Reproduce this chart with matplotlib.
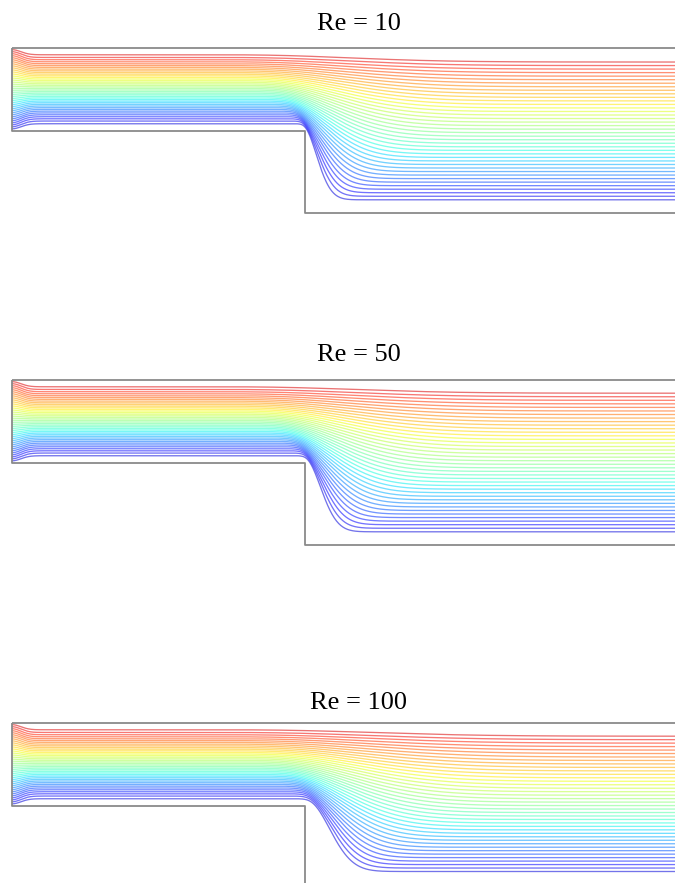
import numpy as np
import matplotlib.pyplot as plt

# panel labels and streamline layout
re_labels = ["Re = 10", "Re = 50", "Re = 100"]
n_lines = 40
channel_len = 8.04          # channel length in step heights
step_x = 3.55               # position of the step
inlet_band = [1.08, 1.92]   # streamline band in the developed inlet
left_band = [1.02, 1.98]    # streamline band at the inlet boundary
outlet_low = [0.16, 0.16, 0.20]
outlet_high = [1.83, 1.84, 1.84]
bend_x0_bottom = [3.51, 3.53, 3.56]
bend_len_bottom = [0.25, 0.29, 0.40]
bend_x0_top = [2.75, 2.75, 2.80]
bend_len_top = [1.80, 1.90, 2.10]
entry_len = 0.15

panel_tops_px = [48, 380, 723]
title_y_px = [24, 355, 703]

W, H = 678, 883
fig = plt.figure(figsize=(W / 100, H / 100), dpi=100)

s = np.linspace(0, 1, n_lines)
x = np.linspace(0, channel_len, 900)

# inlet profile: half parabolic, half uniform spacing
g = np.linspace(0, 1, 401)
f = 3 * g**2 - 2 * g**3
parab = np.interp(0.02 + 0.96 * s, f, g)
unif = (inlet_band[0] - 1) + (inlet_band[1] - inlet_band[0]) * s
y_in_all = 1 + 0.5 * parab + 0.5 * unif
y_left_all = left_band[0] + (left_band[1] - left_band[0]) * s

colors = plt.cm.jet(0.08 + 0.84 * s)

for i, label in enumerate(re_labels):
    top = panel_tops_px[i]
    ax = fig.add_axes([12 / W, (H - top - 165) / H, 663 / W, 165 / H])
    ax.set_xlim(0, channel_len)
    ax.set_ylim(0, 2)
    ax.axis('off')

    y_out_all = outlet_low[i] + (outlet_high[i] - outlet_low[i]) * s
    x0_all = bend_x0_bottom[i] + (bend_x0_top[i] - bend_x0_bottom[i]) * s
    L_all = bend_len_bottom[i] + (bend_len_top[i] - bend_len_bottom[i]) * s

    te = 1 - np.exp(-(x / entry_len) ** 2)
    for k in range(n_lines):
        w = 0.15 * L_all[k]
        u = w * np.logaddexp(0, (x - x0_all[k]) / w)
        t = 1 - np.exp(-(u / L_all[k]) ** 2)
        y = (y_left_all[k] + (y_in_all[k] - y_left_all[k]) * te
             + (y_out_all[k] - y_in_all[k]) * t)
        ax.plot(x, y, color=colors[k], alpha=0.55, lw=0.95)

    # walls
    wall = dict(color='#8a8a8a', lw=1.3, clip_on=False, solid_capstyle='butt')
    ax.plot([0, channel_len], [2, 2], **wall)
    ax.plot([0, 0, step_x, step_x, channel_len], [2, 1, 1, 0, 0], **wall)

    fig.text(359 / W, 1 - title_y_px[i] / H, label, ha='center', va='center',
             fontsize=19, family=['Liberation Serif', 'DejaVu Serif'])

fig.savefig('out.png', dpi=100)
